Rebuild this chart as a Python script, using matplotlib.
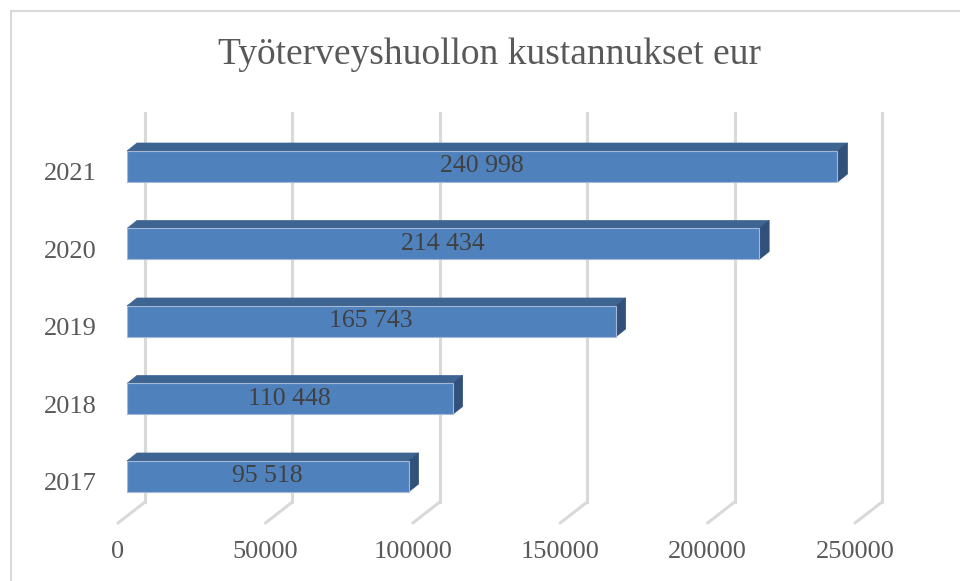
import matplotlib
matplotlib.use('Agg')
import matplotlib.pyplot as plt
from matplotlib.patches import Polygon, Rectangle
from matplotlib.lines import Line2D
from matplotlib.transforms import IdentityTransform

years = ['2017', '2018', '2019', '2020', '2021']
costs = [95518, 110448, 165743, 214434, 240998]
cost_labels = ['95 518', '110 448', '165 743', '214 434', '240 998']
x_ticks = [0, 50000, 100000, 150000, 200000, 250000]

W, H = 960, 581
front = '#4F81BD'
top_col = '#3E6491'
side_col = '#31507A'
grid_col = '#D9D9D9'
txt_col = '#595959'
serif = ['Liberation Serif', 'DejaVu Serif']

fig = plt.figure(figsize=(W / 100, H / 100), dpi=100)
# axes placed in pixels (top-origin picture coords)
ax_l, ax_r, ax_b, ax_t = 127, 864, 515, 120
ax = fig.add_axes([ax_l / W, 1 - ax_b / H, (ax_r - ax_l) / W, (ax_b - ax_t) / H])
ax.set_xlim(0, 250000)
ax.set_ylim(-0.497, 4.6)
ax.axis('off')

ident = IdentityTransform()
back_dx = 18          # back wall offset from bar front plane
floor_dx, floor_dy = -27, -21
back_y0 = H - 502
back_y1 = H - 113

# back wall gridlines + floor lines
for v in x_ticks:
    xf = ax.transData.transform((v, 0))[0]
    xb = xf + back_dx
    ax.add_line(Line2D([xb, xb], [back_y0, back_y1], transform=ident,
                       color=grid_col, lw=2.2, zorder=1, clip_on=False))
    ax.add_line(Line2D([xb, xb + floor_dx], [back_y0, back_y0 + floor_dy], transform=ident,
                       color=grid_col, lw=2.2, zorder=1, clip_on=False, solid_capstyle='round'))
    ax.annotate(str(v), xy=(v, -0.497), xycoords='data', xytext=(-9, -37),
                textcoords='offset pixels', ha='center', va='center',
                fontsize=19, color=txt_col, family=serif, annotation_clip=False)

# bars (front face)
bh = 0.4
ypos = list(range(len(years)))
ax.barh(ypos, costs, height=bh, color=front, edgecolor='#A5B8D6', lw=0.8, zorder=3)

dx, dy = 10, 8
for i, v in enumerate(costs):
    (x0, yb) = ax.transData.transform((0, i - bh / 2))
    (x1, yt) = ax.transData.transform((v, i + bh / 2))
    ax.add_patch(Polygon([(x0, yt), (x1, yt), (x1 + dx, yt + dy), (x0 + dx, yt + dy)],
                         closed=True, transform=ident, facecolor=top_col,
                         edgecolor=top_col, lw=0.5, zorder=2, clip_on=False))
    ax.add_patch(Polygon([(x1, yb), (x1, yt), (x1 + dx, yt + dy), (x1 + dx, yb + dy)],
                         closed=True, transform=ident, facecolor=side_col,
                         edgecolor=side_col, lw=0.5, zorder=2, clip_on=False))
    ax.text(v / 2, i, cost_labels[i], ha='center', va='center', fontsize=18.5,
            color='#404040', family=serif, zorder=4)
    ax.annotate(years[i], xy=(0, i), xycoords='data', xytext=(-30, -8),
                textcoords='offset pixels', ha='right', va='center',
                fontsize=19, color=txt_col, family=serif, annotation_clip=False)

fig.text(490 / W, 1 - 55 / H, 'Työterveyshuollon kustannukset eur', ha='center',
         va='center', fontsize=27, color=txt_col, family=serif)

# chart area border
fig.add_artist(Rectangle((11 / W, -0.1), 1.2, 1.1 - 11 / H, transform=fig.transFigure,
                         fill=False, edgecolor=grid_col, lw=1.5))

fig.savefig('out.png', dpi=100)
